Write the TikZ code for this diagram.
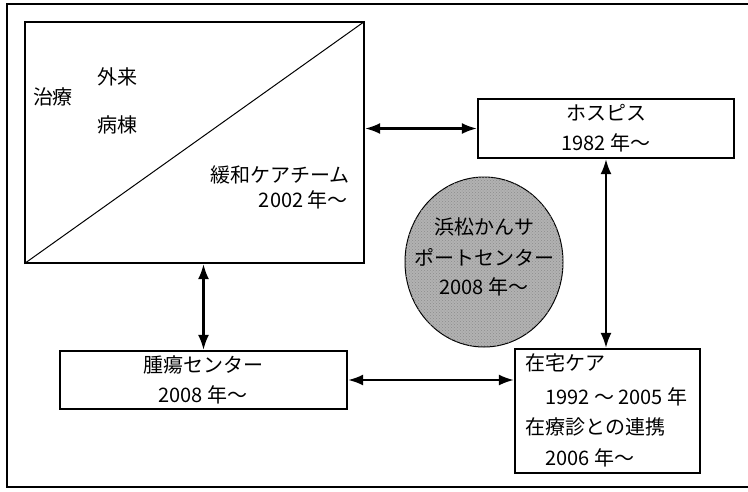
\documentclass[tikz,border=0pt]{standalone}
\usepackage{fontspec}
\setmainfont{Noto Sans CJK JP}
\usetikzlibrary{arrows.meta,shapes.geometric,patterns}
\begin{document}
\begin{tikzpicture}[x=1pt,y=-1pt,
  every node/.style={font=\fontsize{20pt}{24pt}\selectfont, inner sep=0pt},
  boxshape/.style={draw, line width=1.2pt, rectangle},
  dbl/.style={line width=2.2pt, {Latex[length=15pt,width=11pt]}-{Latex[length=15pt,width=11pt]}, shorten <=0.5pt, shorten >=0.5pt}
]
\useasboundingbox (0,0) rectangle (748,491);
% outer frame (right side runs past the picture edge)
\draw[line width=1.5pt] (760,4) -- (7,4) -- (7,487) -- (760,487);

% boxes
\node[boxshape, minimum width=339pt, minimum height=241pt] (big) at (194.5,142.5) {};
\draw[line width=1pt] (big.south west) -- (big.north east);
\node[boxshape, minimum width=256pt, minimum height=59pt] (hospice) at (606,128.5) {};
\node[boxshape, minimum width=287pt, minimum height=58pt] (tumor) at (203.5,380) {};
\node[boxshape, minimum width=185pt, minimum height=124pt] (home) at (607.5,411) {};
\node[draw, line width=1pt, ellipse, fill=black!30, postaction={pattern=crosshatch dots, pattern color=black!45}, minimum width=158pt, minimum height=170pt] (center) at (484,262) {};

% texts in big box
\node (t1) at (117,77) {外来};
\node (t2) at (53,97) {治療};
\node (t3) at (117,125) {病棟};
\node[anchor=east] (t4) at (350,175) {緩和ケアチーム};
\node[anchor=east] (t5) at (348,200) {2002 年〜};

% hospice
\node (h1) at (606,113) {ホスピス};
\node (h2) at (606,143) {1982 年〜};

% tumor centre
\node (u1) at (203,365) {腫瘍センター};
\node (u2) at (203,395) {2008 年〜};

% home care
\node[anchor=west] (c1) at (525,363) {在宅ケア};
\node[anchor=west] (c2) at (545,397) {1992 〜 2005 年};
\node[anchor=west] (c3) at (525,427) {在療診との連携};
\node[anchor=west] (c4) at (545,458) {2006 年〜};

% support centre
\node (s1) at (484,227) {浜松かんサ};
\node (s2) at (484,257) {ポートセンター};
\node (s3) at (484,287) {2008 年〜};

% connectors
\draw[dbl] (hospice.west -| big.east) -- (hospice.west);
\draw[dbl] (big.south -| tumor.north) -- (tumor.north);
\draw[dbl] (hospice.south) -- (hospice.south |- home.north);
\draw[dbl] (tumor.east) -- (tumor.east -| home.west);
\end{tikzpicture}
\end{document}
